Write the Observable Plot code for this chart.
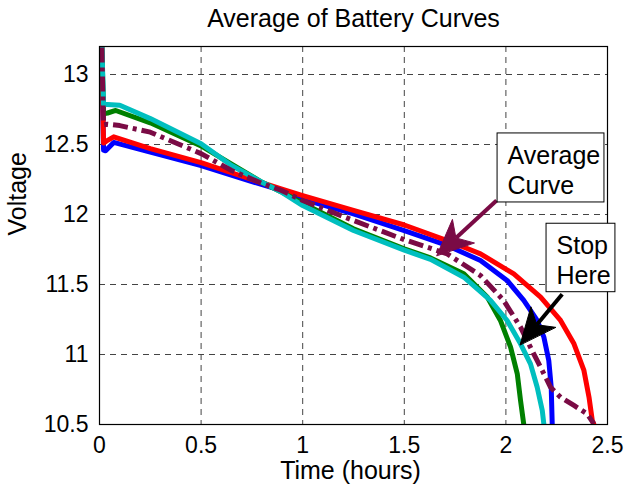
<!DOCTYPE html>
<html><head><meta charset="utf-8">
<script src="https://cdn.jsdelivr.net/npm/d3@7"></script>
<script src="https://cdn.jsdelivr.net/npm/@observablehq/plot@0.6"></script>
<style>html,body{margin:0;padding:0;background:#fff}</style>
</head><body><div id="chart"></div>
<script>
// ---- text ----
const chartTitle = "Average of Battery Curves";
const xLabel = "Time (hours)";
const yLabel = "Voltage";
const xTicks = [0, 0.5, 1, 1.5, 2, 2.5];
const yTicks = [10.5, 11, 11.5, 12, 12.5, 13];
const xGrid = [0.5, 1, 1.5, 2];
const yGrid = [11, 11.5, 12, 12.5, 13];

// ---- series (time in hours, voltage) ----
const blueT = [0.008, 0.02, 0.03, 0.07, 0.25, 0.5, 0.75, 0.89, 1.0, 1.25, 1.5, 1.711, 1.875, 2.006, 2.088, 2.154, 2.187, 2.211, 2.223, 2.228];
const blueV = [13.4, 12.46, 12.455, 12.515, 12.445, 12.35, 12.235, 12.175, 12.11, 12.005, 11.885, 11.779, 11.671, 11.529, 11.386, 11.243, 11.124, 10.957, 10.766, 10.5];

const redT = [0.008, 0.02, 0.04, 0.07, 0.25, 0.5, 0.75, 0.89, 1.0, 1.25, 1.5, 1.711, 1.875, 2.039, 2.171, 2.269, 2.335, 2.384, 2.409, 2.425, 2.433];
const redV = [13.4, 12.51, 12.53, 12.555, 12.47, 12.37, 12.25, 12.185, 12.135, 12.03, 11.925, 11.814, 11.719, 11.576, 11.41, 11.243, 11.076, 10.886, 10.695, 10.529, 10.5];

const greenT = [0.008, 0.02, 0.04, 0.08, 0.25, 0.5, 0.65, 0.8, 0.89, 1.0, 1.25, 1.5, 1.629, 1.793, 1.908, 1.973, 2.023, 2.056, 2.072, 2.088];
const greenV = [13.4, 12.72, 12.725, 12.743, 12.655, 12.49, 12.36, 12.23, 12.165, 12.08, 11.898, 11.755, 11.69, 11.576, 11.41, 11.243, 11.052, 10.862, 10.671, 10.5];

const cyanT = [0.008, 0.02, 0.04, 0.1, 0.25, 0.5, 0.65, 0.8, 0.89, 1.0, 1.25, 1.5, 1.629, 1.793, 1.924, 2.006, 2.072, 2.121, 2.154, 2.179, 2.187];
const cyanV = [13.4, 12.785, 12.785, 12.78, 12.685, 12.505, 12.35, 12.23, 12.165, 12.064, 11.886, 11.745, 11.68, 11.552, 11.386, 11.243, 11.076, 10.933, 10.766, 10.6, 10.5];

const avgT = [0.008, 0.02, 0.04, 0.1, 0.25, 0.5, 0.65, 0.8, 0.89, 1.0, 1.25, 1.5, 1.711, 1.875, 1.989, 2.072, 2.137, 2.187, 2.22, 2.269, 2.335, 2.4, 2.433];
const avgV = [13.4, 12.64, 12.645, 12.635, 12.588, 12.435, 12.314, 12.222, 12.175, 12.1, 11.957, 11.82, 11.719, 11.564, 11.386, 11.195, 11.005, 10.862, 10.766, 10.695, 10.636, 10.576, 10.505];

// ---- annotations (data units) ----
const noteText = ["Average\nCurve", "Stop\nHere"];
const noteX1 = [1.959, 2.2];
const noteX2 = [2.485, 2.539];
const noteY1 = [12.086, 11.445];
const noteY2 = [12.579, 11.934];
const arrowTailX = [1.954, 2.277];
const arrowTailY = [12.1, 11.43];
const arrowTipX = [1.66, 2.07];
const arrowTipY = [11.707, 11.07];

// ---- styles ----
const W = 626, H = 487, mt = 46, mr = 19, mb = 63, ml = 99;
const xDomain = [0, 2.5], yDomain = [10.5, 13.2];
const maroon = "#7a0b45";
const lineSpecs = [
  {t: blueT, v: blueV, color: "#0000ff"},
  {t: redT, v: redV, color: "#ff0000"},
  {t: greenT, v: greenV, color: "#008000"},
  {t: cyanT, v: cyanV, color: "#00bfbf"}
];
const arrowColors = [maroon, "#000000"];
const headLen = 36, headHalf = 16, headNotch = 10;

const rows = (T, V) => T.map((t, i) => ({t, v: V[i]}));

// pixel scales identical to the plot's, for arrowhead geometry
const xs = d3.scaleLinear(xDomain, [ml, W - mr]);
const ys = d3.scaleLinear(yDomain, [H - mb, mt]);
function arrowGeom(i) {
  const tx = xs(arrowTipX[i]), ty = ys(arrowTipY[i]);
  const sx = xs(arrowTailX[i]), sy = ys(arrowTailY[i]);
  const dx = tx - sx, dy = ty - sy, len = Math.hypot(dx, dy);
  const ux = dx / len, uy = dy / len, nx = -uy, ny = ux;
  const px = [
    [tx, ty],
    [tx - headLen * ux + headHalf * nx, ty - headLen * uy + headHalf * ny],
    [tx - (headLen - headNotch) * ux, ty - (headLen - headNotch) * uy],
    [tx - headLen * ux - headHalf * nx, ty - headLen * uy - headHalf * ny]
  ];
  const head = px.map(([a, b]) => ({t: xs.invert(a), v: ys.invert(b)}));
  return {head, shaft: {x1: arrowTailX[i], y1: arrowTailY[i], x2: head[2].t, y2: head[2].v}};
}
const arrows = [0, 1].map(arrowGeom);

const marks = [
  Plot.ruleX(xGrid, {stroke: "#444", strokeWidth: 1, strokeDasharray: "6,5"}),
  Plot.ruleY(yGrid, {stroke: "#444", strokeWidth: 1, strokeDasharray: "6,5"}),
  ...lineSpecs.map(s => Plot.line(rows(s.t, s.v), {x: "t", y: "v", stroke: s.color, strokeWidth: 5, clip: true})),
  Plot.line(rows(avgT, avgV), {x: "t", y: "v", stroke: maroon, strokeWidth: 5, strokeDasharray: "15,5,4,5", strokeLinecap: "butt", clip: true}),
  Plot.frame({stroke: "black", strokeWidth: 1.2}),
  Plot.axisX(xTicks, {tickSize: 0, tickPadding: 12, fontSize: 23, tickFormat: d => String(d), label: null}),
  Plot.axisY(yTicks, {tickSize: 0, tickPadding: 11, fontSize: 23, tickFormat: d => String(d), label: null}),
  // arrows
  ...arrows.map((a, i) => Plot.link([a.shaft], {x1: "x1", y1: "y1", x2: "x2", y2: "y2", stroke: arrowColors[i], strokeWidth: 4, strokeLinecap: "butt"})),
  ...arrows.map((a, i) => Plot.line(a.head, {x: "t", y: "v", curve: "linear-closed", fill: arrowColors[i], stroke: arrowColors[i], strokeWidth: 1})),
  // note boxes
  Plot.rect([0, 1], {x1: i => noteX1[i], x2: i => noteX2[i], y1: i => noteY1[i], y2: i => noteY2[i], fill: "white", stroke: "black", strokeWidth: 1}),
  Plot.text([0, 1], {x: i => noteX1[i], y: i => noteY2[i], text: i => noteText[i], textAnchor: "start", lineAnchor: "top", lineHeight: 1.2, dx: 10, dy: 9, fontSize: 25, fill: "black"}),
  // titles
  Plot.text([chartTitle], {frameAnchor: "top", lineAnchor: "bottom", dy: -20, fontSize: 25, fill: "black"}),
  Plot.text([xLabel], {frameAnchor: "bottom", lineAnchor: "bottom", dy: 54, dx: -3, fontSize: 25, fill: "black"}),
  Plot.text([yLabel], {frameAnchor: "left", lineAnchor: "bottom", rotate: -90, dx: -74, fontSize: 25, fill: "black"})
];

const chart = Plot.plot({
  width: W, height: H,
  marginTop: mt, marginRight: mr, marginBottom: mb, marginLeft: ml,
  x: {domain: xDomain},
  y: {domain: yDomain},
  style: {fontFamily: "'Liberation Sans', Arial, sans-serif", fontSize: "23px", color: "black", background: "white", overflow: "visible"},
  marks
});
document.getElementById("chart").appendChild(chart);
</script>
</body></html>
